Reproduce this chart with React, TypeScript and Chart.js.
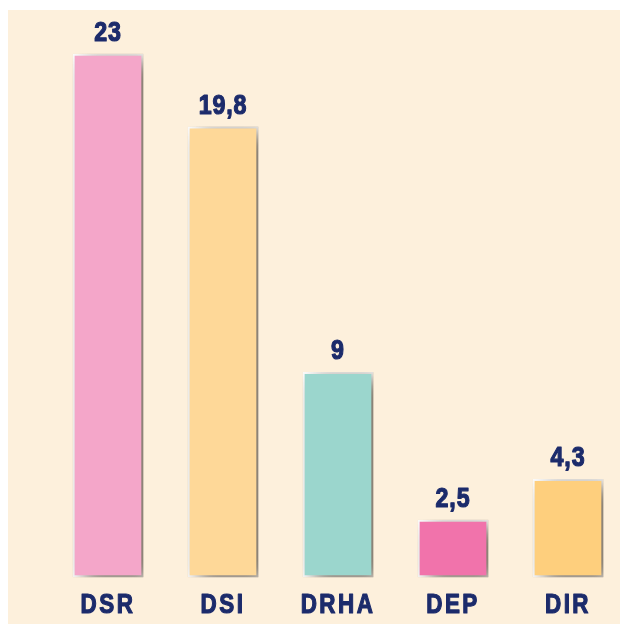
import React, { useEffect, useRef } from "react";
import { Chart, registerables } from "chart.js";

Chart.register(...registerables);

const categories = ["DSR", "DSI", "DRHA", "DEP", "DIR"];
const values = [23, 19.8, 9, 2.5, 4.3];
const valueLabels = ["23", "19,8", "9", "2,5", "4,3"];
const barColors = ["#f4a6c9", "#fed898", "#9bd6cd", "#f173ab", "#fecf7d"];

const NAVY = "#1c2b6b";

const labelPlugin = {
  id: "labels",
  beforeDatasetsDraw(chart: any) {
    const ctx = chart.ctx;
    ctx.save();
    ctx.shadowColor = "rgba(60,45,25,0.75)";
    ctx.shadowBlur = 18;
    ctx.shadowOffsetX = 9;
    ctx.shadowOffsetY = 5;
  },
  afterDatasetsDraw(chart: any) {
    const ctx = chart.ctx;
    ctx.restore();
    const x = chart.scales.x;
    const y = chart.scales.y;
    ctx.save();
    ctx.fillStyle = NAVY;
    ctx.strokeStyle = NAVY;
    ctx.lineWidth = 1.2;
    ctx.lineJoin = "round";
    ctx.textAlign = "center";
    ctx.textBaseline = "alphabetic";
    ctx.font = "bold 27px 'Liberation Sans', Arial, sans-serif";
    categories.forEach((c, i) => {
      const px = x.getPixelForValue(i);
      const top = y.getPixelForValue(values[i]);
      ctx.save();
      (ctx as any).letterSpacing = "1px";
      ctx.translate(px, top - 13);
      ctx.scale(0.86, 1);
      ctx.fillText(valueLabels[i], 0, 0);
      ctx.strokeText(valueLabels[i], 0, 0);
      ctx.restore();
      ctx.save();
      (ctx as any).letterSpacing = "3px";
      ctx.translate(px, chart.chartArea.bottom + 36);
      ctx.scale(0.83, 1);
      ctx.fillText(c, 0, 0);
      ctx.strokeText(c, 0, 0);
      ctx.restore();
    });
    ctx.restore();
  },
};

export default function App() {
  const ref = useRef<HTMLCanvasElement>(null);
  useEffect(() => {
    if (!ref.current) return;
    const chart = new Chart(ref.current, {
      type: "bar",
      data: {
        labels: categories,
        datasets: [
          {
            data: values,
            backgroundColor: barColors,
            borderColor: "#ffffff",
            borderWidth: 2,
            borderSkipped: false,
            barThickness: 70,
            clip: false as any,
          },
        ],
      },
      options: {
        animation: false,
        responsive: false,
        maintainAspectRatio: false,
        layout: { padding: { left: 100, right: 52, top: 44, bottom: 47 } },
        plugins: { legend: { display: false }, tooltip: { enabled: false } },
        scales: {
          x: { display: false, offset: false },
          y: { display: false, min: 0, max: 23 },
        },
      },
      plugins: [labelPlugin],
    });
    return () => chart.destroy();
  }, []);
  return (
    <div
      style={{
        position: "absolute",
        left: 8,
        top: 10,
        width: 612,
        height: 614,
        background: "#fdf0dc",
      }}
    >
      <canvas ref={ref} width={612} height={614} style={{ display: "block" }} />
    </div>
  );
}
